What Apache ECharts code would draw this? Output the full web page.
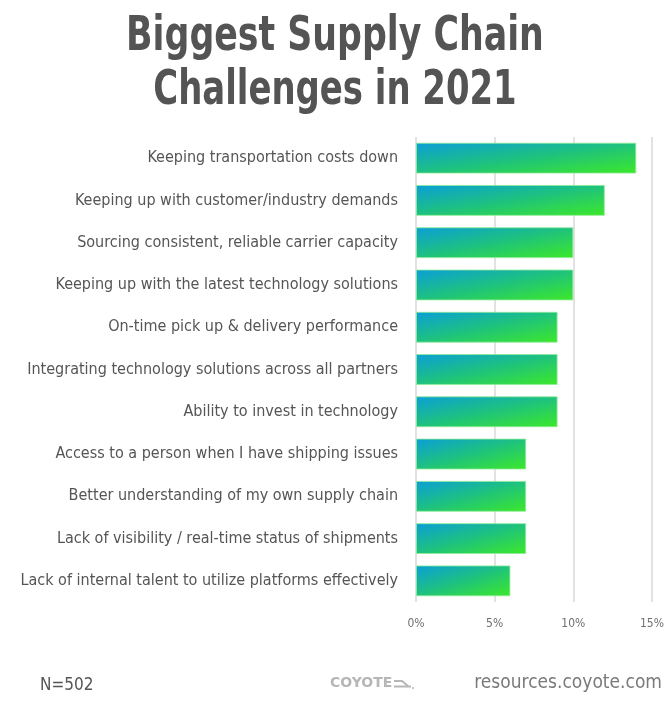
<!DOCTYPE html>
<html>
<head>
<meta charset="utf-8">
<script src="https://cdn.jsdelivr.net/npm/echarts@6/dist/echarts.min.js"></script>
<style>
html,body{margin:0;padding:0;background:#fff;}
#chart{width:670px;height:705px;}
</style>
</head>
<body>
<div id="chart"></div>
<script>
const categories = [
  "Keeping transportation costs down",
  "Keeping up with customer/industry demands",
  "Sourcing consistent, reliable carrier capacity",
  "Keeping up with the latest technology solutions",
  "On-time pick up & delivery performance",
  "Integrating technology solutions across all partners",
  "Ability to invest in technology",
  "Access to a person when I have shipping issues",
  "Better understanding of my own supply chain",
  "Lack of visibility / real-time status of shipments",
  "Lack of internal talent to utilize platforms effectively"
];
const values = [14, 12, 10, 10, 9, 9, 9, 7, 7, 7, 6];
const xTicks = [0, 5, 10, 15];
const titleLines = ['Biggest Supply Chain', 'Challenges in 2021'];

const FONT = '"DejaVu Sans Condensed", "DejaVu Sans", sans-serif';

// Plot geometry (styling only — used to orient each bar's gradient like a bounding-box diagonal)
const GRID = {left: 416, right: 18, top: 137, bottom: 103};
const PLOT_W = 670 - GRID.left - GRID.right;
const BAR_H = 31;

function barGradient(v) {
  const w = Math.max(1, v / xTicks[xTicks.length - 1] * PLOT_W);
  const h = BAR_H;
  const s = w * w + h * h;
  const x2 = 2 * h * h / s;
  const y2 = 2 * w * w / s;
  return new echarts.graphic.LinearGradient(0, 0, x2, y2, [
    {offset: 0, color: '#0a9ed9'},
    {offset: 0.5, color: '#1ec27e'},
    {offset: 1, color: '#3de829'}
  ]);
}

const chart = echarts.init(document.getElementById('chart'), null, {renderer: 'canvas'});
chart.setOption({
  backgroundColor: '#fff',
  animation: false,
  grid: {left: GRID.left, right: GRID.right, top: GRID.top, bottom: GRID.bottom, containLabel: false},
  xAxis: {
    type: 'value',
    min: xTicks[0],
    max: xTicks[xTicks.length - 1],
    interval: 5,
    axisLine: {show: false},
    axisTick: {show: false},
    splitLine: {show: true, lineStyle: {color: '#e2e2e2', width: 2}},
    axisLabel: {
      formatter: v => v + '%',
      fontFamily: FONT,
      fontSize: 12,
      color: '#707070',
      margin: 16
    }
  },
  yAxis: {
    type: 'category',
    data: categories,
    inverse: true,
    axisLine: {show: false},
    axisTick: {show: false},
    splitLine: {show: false},
    axisLabel: {
      fontFamily: FONT,
      fontSize: 16,
      color: '#555',
      margin: 18
    }
  },
  series: [{
    type: 'bar',
    data: values.map(v => ({value: v, itemStyle: {color: barGradient(v)}})),
    barCategoryGap: '27%',
    itemStyle: {
      borderColor: 'rgba(140,235,150,0.8)',
      borderWidth: 1
    }
  }],
  graphic: [
    {type: 'text', x: 335, y: 14, scaleX: 0.805, style: {text: titleLines[0], textAlign: 'center', fontFamily: FONT, fontWeight: 'bold', fontSize: 48, fill: '#545454'}},
    {type: 'text', x: 335, y: 68, scaleX: 0.785, style: {text: titleLines[1], textAlign: 'center', fontFamily: FONT, fontWeight: 'bold', fontSize: 48, fill: '#545454'}},
    {type: 'text', left: 40, top: 677, style: {text: 'N=502', fontFamily: FONT, fontSize: 17, fill: '#555'}},
    {type: 'text', left: 330, top: 676, style: {text: 'COYOTE', fontFamily: '"DejaVu Sans"', fontWeight: 'bold', fontSize: 14, fill: '#b6b6b6'}},
    {type: 'polyline', shape: {points: [[394, 681], [402, 681], [408, 686]]}, style: {stroke: '#b6b6b6', lineWidth: 2, fill: null}},
    {type: 'polyline', shape: {points: [[394, 686.5], [411, 686.5]]}, style: {stroke: '#b6b6b6', lineWidth: 2}},
    {type: 'circle', shape: {cx: 413, cy: 688, r: 1}, style: {fill: '#b6b6b6'}},
    {type: 'text', right: 8, top: 674, style: {text: 'resources.coyote.com', fontFamily: FONT, fontSize: 19, fill: '#7a7a7a'}}
  ]
});
</script>
</body>
</html>
